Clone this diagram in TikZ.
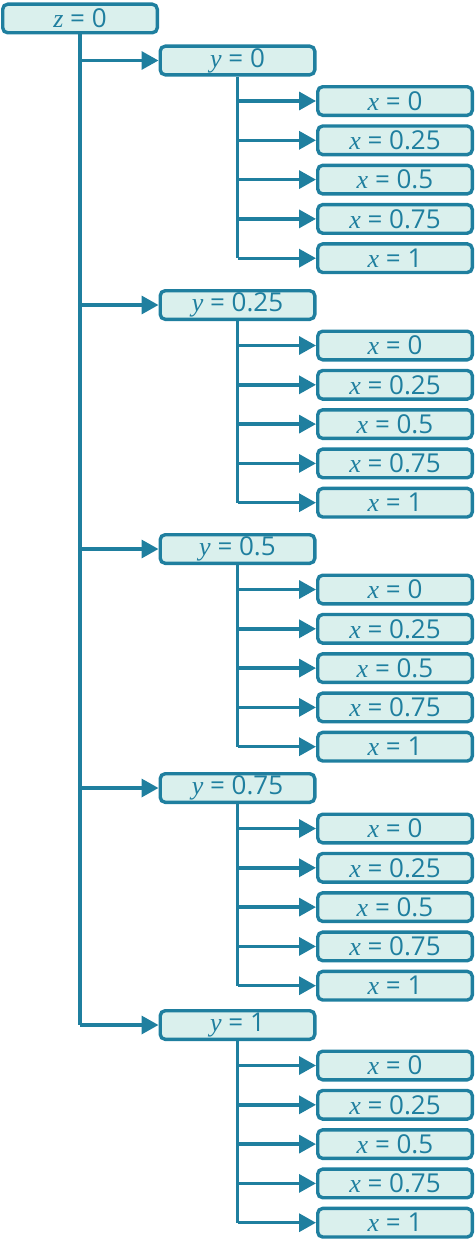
\documentclass[tikz,border=0pt]{standalone}
\usepackage{fontspec}
\setmainfont{Open Sans}
\newfontfamily\varfont{Liberation Serif}
\usepackage{tikz}
\usetikzlibrary{arrows.meta}
\definecolor{treeline}{HTML}{1F7F9F}
\definecolor{treefill}{HTML}{DAF0ED}
\newcommand{\vname}[1]{{\varfont\itshape #1}}

\begin{document}
\begin{tikzpicture}[x=1pt, y=-1pt, every node/.style={font=\fontsize{26}{28}\selectfont, text=treeline},
  level/.style={rectangle, draw=treeline, fill=treefill, rounded corners=5pt, line width=3.4pt,
    minimum width=154.6pt, minimum height=28.6pt, inner sep=0pt},
  link/.style={draw=treeline, line width=3.4pt, -{Triangle[length=17pt,width=18pt]}},
  trunk/.style={draw=treeline, line width=3.4pt}]
  \useasboundingbox (0,0) rectangle (476,1239);
  \node[level] (z) at (80,18.5) {\vname{z} = 0};
  \foreach \yc/\yv [count=\i] in {60.5/0, 305/0.25, 549/0.5, 788/0.75, 1025/1} {
    \node[level] (y\i) at (237.5,\yc) {\vname{y} = \yv};
    \draw[link] (z.south |- y\i.west) -- (y\i.west);
    \foreach \xv [count=\j] in {0, 0.25, 0.5, 0.75, 1} {
      \node[level] (x\i\j) at (395,{\yc+40.5+39.3*(\j-1)}) {\vname{x} = \xv};
      \draw[link] (y\i.south |- x\i\j.west) -- (x\i\j.west);
    }
    \draw[trunk] (y\i.south) -- (y\i.south |- x\i5.west);
  }
  \draw[trunk] (z.south) -- (z.south |- y5.west);
\end{tikzpicture}
\end{document}
